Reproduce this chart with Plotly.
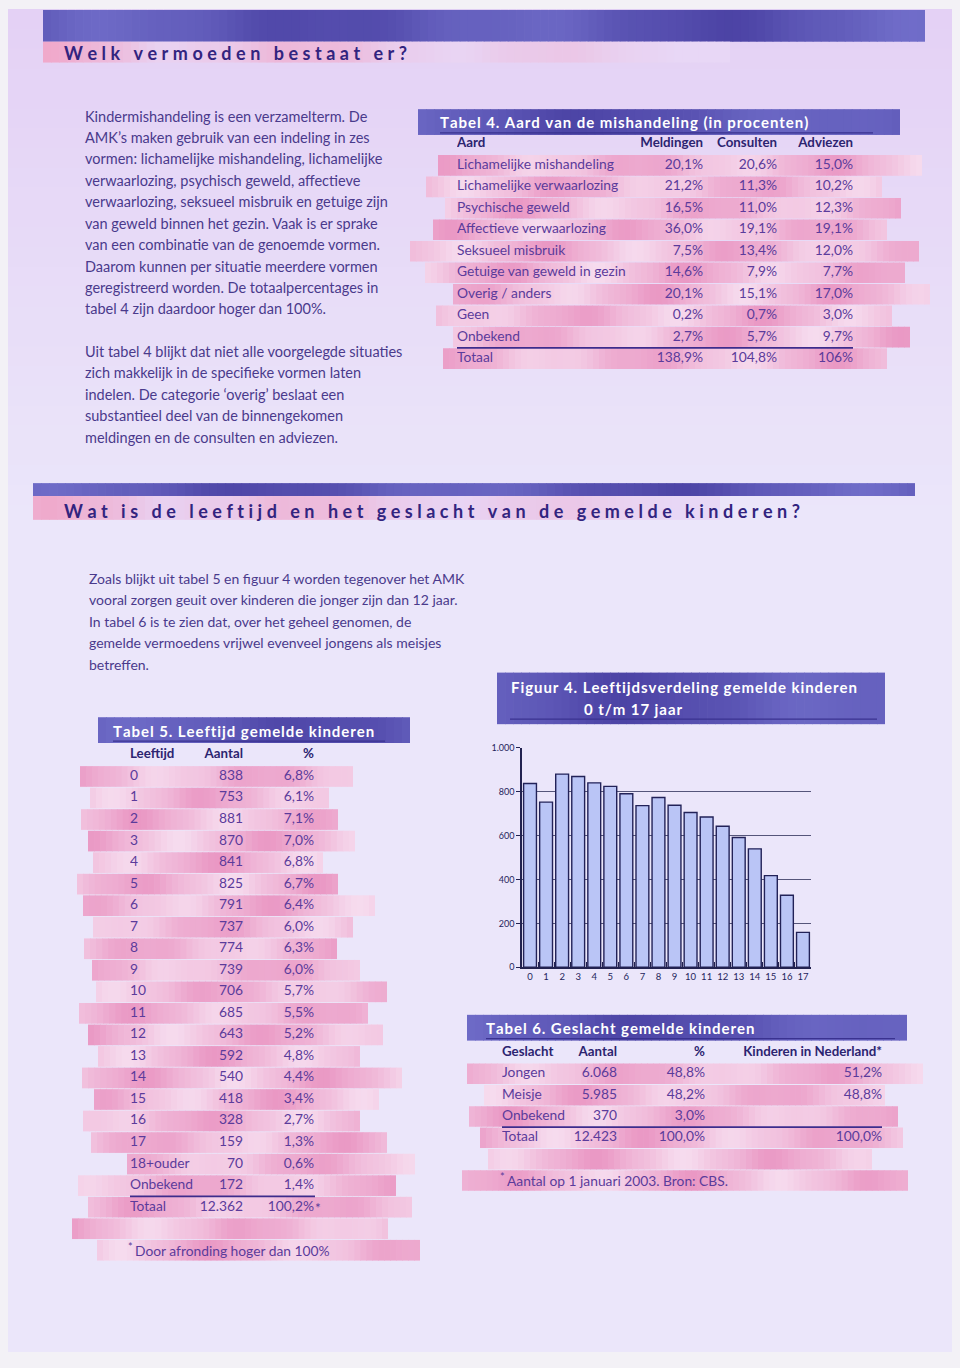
import math
import plotly.graph_objects as go

W, H = 960, 1368

# ---------------- data ----------------
tab4_aard = ["Lichamelijke mishandeling", "Lichamelijke verwaarlozing", "Psychische geweld",
             "Affectieve verwaarlozing", "Seksueel misbruik", "Getuige van geweld in gezin",
             "Overig / anders", "Geen", "Onbekend", "Totaal"]
tab4_meldingen = [20.1, 21.2, 16.5, 36.0, 7.5, 14.6, 20.1, 0.2, 2.7, 138.9]
tab4_consulten = [20.6, 11.3, 11.0, 19.1, 13.4, 7.9, 15.1, 0.7, 5.7, 104.8]
tab4_adviezen = [15.0, 10.2, 12.3, 19.1, 12.0, 7.7, 17.0, 3.0, 9.7, 106]
tab4_headers = ["Aard", "Meldingen", "Consulten", "Adviezen"]

tab5_leeftijd = ["0", "1", "2", "3", "4", "5", "6", "7", "8", "9", "10", "11", "12", "13",
                 "14", "15", "16", "17", "18+ouder", "Onbekend", "Totaal"]
tab5_aantal = [838, 753, 881, 870, 841, 825, 791, 737, 774, 739, 706, 685, 643, 592,
               540, 418, 328, 159, 70, 172, 12362]
tab5_pct = [6.8, 6.1, 7.1, 7.0, 6.8, 6.7, 6.4, 6.0, 6.3, 6.0, 5.7, 5.5, 5.2, 4.8,
            4.4, 3.4, 2.7, 1.3, 0.6, 1.4, 100.2]
tab5_headers = ["Leeftijd", "Aantal", "%"]
tab5_note = "Door afronding hoger dan 100%"

tab6_geslacht = ["Jongen", "Meisje", "Onbekend", "Totaal"]
tab6_aantal = [6068, 5985, 370, 12423]
tab6_pct = [48.8, 48.2, 3.0, 100.0]
tab6_nederland = [51.2, 48.8, None, 100.0]
tab6_headers = ["Geslacht", "Aantal", "%", "Kinderen in Nederland*"]
tab6_note = "Aantal op 1 januari 2003. Bron: CBS."

fig4_ages = tab5_leeftijd[:18]
fig4_counts = tab5_aantal[:18]
fig4_yticks = [0, 200, 400, 600, 800, 1000]
fig4_yticklabels = ["0", "200", "400", "600", "800", "1.000"]


def pct(v):
    if v is None:
        return None
    if isinstance(v, int):
        return f"{v}%"
    return f"{v:.1f}".replace(".", ",") + "%"


def num(n):
    return f"{n:,}".replace(",", ".")


# ---------------- helpers ----------------
def X(x):
    return x / W


def Y(y):
    return 1 - y / H


def hex2rgb(h):
    h = h.lstrip("#")
    return tuple(int(h[i:i + 2], 16) for i in (0, 2, 4))


def mix(c1, c2, t):
    a, b = hex2rgb(c1), hex2rgb(c2)
    return "rgb(%d,%d,%d)" % tuple(round(a[i] + (b[i] - a[i]) * t) for i in range(3))


shapes = []


def rect(x0, y0, x1, y1, color, yref="paper"):
    if yref == "paper":
        y0, y1 = Y(y1), Y(y0)
    shapes.append(dict(type="rect", xref="paper", yref=yref, x0=X(x0), x1=X(x1),
                       y0=y0, y1=y1, fillcolor=color, line=dict(width=0), layer="below"))


def hline(x0, x1, y, color, w, yref="paper"):
    yy = Y(y) if yref == "paper" else y
    shapes.append(dict(type="line", xref="paper", yref=yref, x0=X(x0), x1=X(x1),
                       y0=yy, y1=yy, line=dict(color=color, width=w), layer="above"))


def band(x0, y0, x1, y1, c1, c2, phase, seg=6, freq=0.2, fade=False, yref="paper"):
    n = max(1, int(round((x1 - x0) / seg)))
    w = (x1 - x0) / n
    for k in range(n):
        t = 0.5 + 0.5 * math.sin(phase + k * freq) * (0.75 + 0.25 * math.sin(phase * 1.7 + k * freq * 2.3))
        if fade:
            t *= max(0.0, 1 - (k / n) ** 1.6)
        rect(x0 + k * w, y0, min(x1, x0 + (k + 1) * w + 0.7), y1, mix(c1, c2, t), yref=yref)


PINK_L, PINK_D = "#f6dbee", "#ea98c4"
BAR_D, BAR_L = "#4a41a3", "#706dc9"
LAV = "#e8d7f6"

# page background
rect(8, 3, 952, 1357, "#ebe6fa")
nb = 26
for k in range(nb):
    y0 = 3 + k * 20
    rect(8, y0, 952, y0 + 21, mix("#e4d1f5", "#ebe6fa", k / (nb - 1)))

# section headings
band(43, 4, 925, 36, BAR_D, BAR_L, 0.3, seg=8, freq=0.13)
band(43, 36, 730, 57, LAV, "#f0a7c9", 1.2, seg=8, freq=0.2, fade=True)
band(33, 481, 915, 494, BAR_D, BAR_L, 1.0, seg=8, freq=0.13)
band(33, 494, 720, 518, LAV, "#f0a7c9", 0.9, seg=8, freq=0.2, fade=True)

# table title bars
band(418, 104, 900, 130, BAR_D, BAR_L, 2.0, seg=8, freq=0.12)
hline(440, 873, 128, "#3a3290", 1.2)
band(98, 717, 410, 743, BAR_D, BAR_L, 0.7, seg=8, freq=0.15)
hline(113, 385, 741, "#3a3290", 1.2)
band(467, 1017, 907, 1043, BAR_D, BAR_L, 1.6, seg=8, freq=0.13)
hline(486, 895, 1041, "#3a3290", 1.2)
band(497, 672, 885, 724, BAR_D, BAR_L, 2.4, seg=8, freq=0.13)
hline(510, 877, 719, "#3a3290", 1.2)

# ---------------- annotations ----------------
ann = []
BODY = "#4a3a8c"


def text(x, y, s, size=14, color=BODY, family="Lato", anchor="left",
         xref="paper", yref="paper", yshift=0):
    ann.append(dict(xref=xref, yref=yref, x=X(x) if xref == "paper" else x,
                    y=Y(y) if yref == "paper" else y, text=s, showarrow=False,
                    xanchor=anchor, yanchor="middle", yshift=yshift,
                    font=dict(family=family, size=size, color=color)))


def spaced(s, sp):
    return sp.join(s)


THIN2 = "\u2009\u2009"
HAIR = "\u200a"
text(62, 47, "<b>%s</b>" % spaced("Welk vermoeden bestaat er?", THIN2), size=18, color="#32247f")
text(62, 509, "<b>%s</b>" % spaced("Wat is de leeftijd en het geslacht van de gemelde kinderen?", THIN2),
     size=18, color="#32247f")

para1 = ["Kindermishandeling is een verzamelterm. De",
         "AMK\u2019s maken gebruik van een indeling in zes",
         "vormen: lichamelijke mishandeling, lichamelijke",
         "verwaarlozing, psychisch geweld, affectieve",
         "verwaarlozing, seksueel misbruik en getuige zijn",
         "van geweld binnen het gezin. Vaak is er sprake",
         "van een combinatie van de genoemde vormen.",
         "Daarom kunnen per situatie meerdere vormen",
         "geregistreerd worden. De totaalpercentages in",
         "tabel 4 zijn daardoor hoger dan 100%."]
para2 = ["Uit tabel 4 blijkt dat niet alle voorgelegde situaties",
         "zich makkelijk in de specifieke vormen laten",
         "indelen. De categorie \u2018overig\u2019 beslaat een",
         "substantieel deel van de binnengekomen",
         "meldingen en de consulten en adviezen."]
para3 = ["Zoals blijkt uit tabel 5 en figuur 4 worden tegenover het AMK",
         "vooral zorgen geuit over kinderen die jonger zijn dan 12 jaar.",
         "In tabel 6 is te zien dat, over het geheel genomen, de",
         "gemelde vermoedens vrijwel evenveel jongens als meisjes",
         "betreffen."]
for i, s in enumerate(para1):
    text(83, 111 + i * 21.6, s, size=14.5)
for i, s in enumerate(para2):
    text(83, 348 + i * 21.7, s, size=14.5)
for i, s in enumerate(para3):
    text(87, 577 + i * 21.6, s, size=14)

WHITE = "#ffffff"
text(438, 117, "<b>%s</b>" % spaced("Tabel 4. Aard van de mishandeling (in procenten)", HAIR), size=15, color=WHITE)
text(111, 731, "<b>%s</b>" % spaced("Tabel 5. Leeftijd gemelde kinderen", HAIR), size=15, color=WHITE)
text(484, 1030, "<b>%s</b>" % spaced("Tabel 6. Geslacht gemelde kinderen", HAIR), size=15, color=WHITE)
text(509, 687, "<b>%s</b>" % spaced("Figuur 4. Leeftijdsverdeling gemelde kinderen", HAIR), size=15, color=WHITE)
text(582, 709, "<b>%s</b>" % spaced("0 t/m 17 jaar", HAIR), size=15, color=WHITE)

# ---------------- tables as text on hidden axes ----------------
CELL = "#5b3b9b"
HEAD = "#2c2470"
traces = []
axes = {}


def make_table(k, left, right, y_header, row_h, n_slots, headers, columns, anchors, aligns):
    """Rows: index 0 = header, 1.. = data rows; n_slots = total row slots incl. blank/footnote."""
    top = y_header - row_h / 2
    bottom = y_header + (n_slots - 0.5) * row_h
    axes["xaxis%d" % k] = dict(domain=[X(left), X(right)], range=[0, right - left], visible=False,
                               fixedrange=True)
    axes["yaxis%d" % k] = dict(domain=[Y(bottom), Y(top)], range=[n_slots - 0.5, -0.5],
                               visible=False, fixedrange=True)
    for h, col, ax, al in zip(headers, columns, anchors, aligns):
        vals = ["<b>%s</b>" % h] + list(col)
        ys = [i for i, v in enumerate(vals) if v is not None]
        txt = [v for v in vals if v is not None]
        cols = [HEAD if i == 0 else CELL for i in ys]
        sizes = [13.3 if i == 0 else 13.8 for i in ys]
        traces.append(go.Scatter(x=[ax] * len(ys), y=ys, text=txt, mode="text",
                                 textposition="middle right" if al == "left" else "middle left",
                                 textfont=dict(family="Lato", size=sizes, color=cols),
                                 hoverinfo="skip", xaxis="x%d" % k, yaxis="y%d" % k))


def stripes(k, spans):
    for i, (a, b) in enumerate(spans):
        band(a, i + 0.5 + 0.02, b, i + 1.5 - 0.02, PINK_L, PINK_D, 2.1 * i + 0.6 * k, yref="y%d" % k)


def footnote(x, row, note, yref):
    text(x - 2, row, "*", size=11, color=CELL, yref=yref, yshift=4)
    text(x + 5, row, note, size=13.8, color=CELL, yref=yref)


# Tabel 4
make_table(2, 457, 853, 139, 21.65, 11, tab4_headers,
           [tab4_aard, [pct(v) for v in tab4_meldingen], [pct(v) for v in tab4_consulten],
            [pct(v) for v in tab4_adviezen]],
           [0, 246, 320, 396], ["left", "right", "right", "right"])
stripes(2, [(438, 922), (426, 882), (445, 901), (433, 887), (410, 919),
            (425, 905), (453, 930), (436, 892), (453, 910), (443, 887)])
hline(457, 853, 9.5, "#3d2c8c", 1.6, yref="y2")

# Tabel 5
make_table(3, 130, 322, 755, 21.71, 24, tab5_headers,
           [tab5_leeftijd, [num(v) for v in tab5_aantal], [pct(v) for v in tab5_pct]],
           [0, 113, 184], ["left", "right", "right"])
stripes(3, [(80, 353), (90, 329), (81, 338), (88, 355), (93, 323), (77, 338), (83, 375),
            (93, 353), (84, 337), (92, 360), (96, 387), (79, 368), (88, 383), (98, 360),
            (82, 402), (94, 379), (83, 360), (91, 387), (127, 415), (78, 396), (88, 412),
            (72, 388), (97, 420)])
hline(130, 315, 20.5, "#3d2c8c", 1.6, yref="y3")
ann.append(dict(xref="x3", yref="y3", x=183, y=21, text="*", showarrow=False, xanchor="left",
                yanchor="middle", font=dict(family="Lato", size=13.8, color=CELL)))
footnote(128, 23, tab5_note, "y3")

# Tabel 6
make_table(4, 502, 882, 1055, 21.5, 7, tab6_headers,
           [tab6_geslacht, [num(v) for v in tab6_aantal], [pct(v) for v in tab6_pct],
            [pct(v) for v in tab6_nederland]],
           [0, 115, 203, 380], ["left", "right", "right", "right"])
stripes(4, [(467, 923), (484, 885), (469, 898), (480, 903), (488, 872), (462, 908)])
hline(502, 882, 3.5, "#3d2c8c", 1.6, yref="y4")
footnote(500, 6, tab6_note, "y4")

# ---------------- figure 4 ----------------
bars = go.Bar(x=fig4_ages, y=fig4_counts,
              marker=dict(color="#bac5f6", line=dict(color="#222258", width=1.4)),
              hoverinfo="skip", xaxis="x", yaxis="y")

fig = go.Figure([bars] + traces)
AX = "#1f1f5c"
fig.update_layout(
    width=W, height=H, margin=dict(l=0, r=0, t=0, b=0),
    paper_bgcolor="#f3f1f6", plot_bgcolor="rgba(0,0,0,0)",
    showlegend=False, bargap=0.2,
    shapes=shapes, annotations=ann,
    xaxis=dict(domain=[X(522), X(811)], anchor="y", type="category", tickangle=0,
               showline=True, linecolor="#222250", linewidth=1.5,
               ticks="inside", tickson="boundaries", ticklen=5, tickcolor="#222250",
               showgrid=False, tickfont=dict(family="Lato", size=9.5, color=AX), fixedrange=True),
    yaxis=dict(domain=[Y(969), Y(748)], anchor="x", range=[0, 1000],
               tickvals=fig4_yticks, ticktext=fig4_yticklabels,
               showline=True, linecolor="#222250", linewidth=1.5,
               ticks="outside", ticklen=4, tickcolor="#222250",
               showgrid=True, gridcolor="#55557a", gridwidth=1, zeroline=False,
               tickfont=dict(family="Lato", size=9, color=AX), fixedrange=True),
    **axes,
)

fig.write_html("out.html", config={"displayModeBar": False},
               post_script="document.body.style.margin='0';")
